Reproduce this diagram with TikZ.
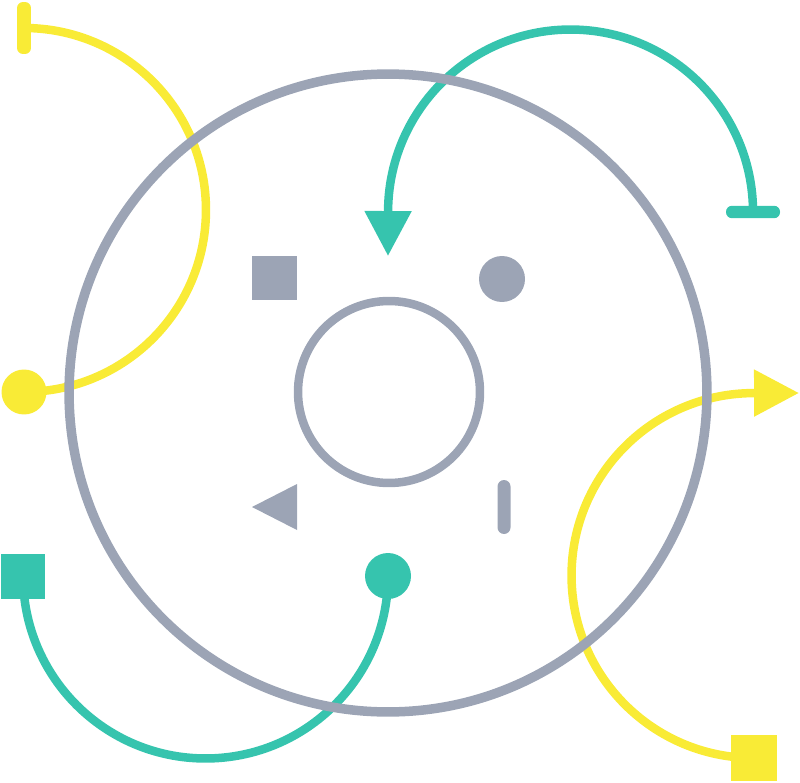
\documentclass[tikz,border=0pt]{standalone}
\usepackage{tikz}
\usetikzlibrary{arrows.meta,positioning}
\definecolor{sunyellow}{HTML}{F9EB36}
\definecolor{seateal}{HTML}{36C4AE}
\definecolor{slategrey}{HTML}{9CA4B5}

\begin{document}
\begin{tikzpicture}[x=0.02cm,y=0.02cm]
        \tikzstyle{ring}=[draw=slategrey, line width=0.19cm]
        \tikzstyle{arcline}=[line width=0.17cm]
        \tikzstyle{sqmark}=[rectangle, inner sep=0pt, minimum size=0.9cm]
        \tikzstyle{dotmark}=[circle, inner sep=0pt, minimum size=0.9cm]
        \tikzstyle{barmark}=[rectangle, inner sep=0pt, rounded corners=0.12cm]
        \tikzstyle{bigtip}=[-{Triangle[width=0.9cm,length=0.9cm]}]
        \useasboundingbox (0,0) rectangle (800,782);
        % end markers of the arcs
        \node[barmark, fill=sunyellow, minimum width=0.28cm, minimum height=1.04cm] (ybar) at (24,754) {};
        \node[dotmark, fill=sunyellow] (ydot) at (24,390) {};
        \node[sqmark, fill=sunyellow, minimum size=0.92cm] (ysq) at (754,24) {};
        \coordinate (ytip) at (799,389);
        \node[barmark, fill=seateal, minimum width=1.08cm, minimum height=0.25cm] (tbar) at (753,570) {};
        \coordinate (ttip) at (388,526);
        \node[dotmark, fill=seateal, minimum size=0.92cm] (tdot) at (388,206) {};
        \node[sqmark, fill=seateal] (tsq) at (23,206) {};
        % arcs
        \draw[arcline, draw=sunyellow] (ybar.center) arc[start angle=90, end angle=-90, radius=3.64cm];
        \draw[arcline, draw=seateal, bigtip] (tbar.center) arc[start angle=0, end angle=180, radius=3.65cm] -- (ttip);
        \draw[arcline, draw=sunyellow, bigtip] (ysq.center) arc[start angle=-90, end angle=-270, radius=3.65cm] -- (ytip);
        \draw[arcline, draw=seateal] (tdot.center) arc[start angle=0, end angle=-180, radius=3.65cm];
        % rings
        \draw[ring] (388,389) circle[radius=6.38cm];
        \draw[ring, line width=0.17cm] (389,390) circle[radius=1.82cm];
        % grey marks inside
        \node[sqmark, fill=slategrey] (gsq) at (274,504) {};
        \node[dotmark, fill=slategrey, minimum size=0.92cm] (gdot) at (502,503) {};
        \fill[slategrey] (252,275) -- (297,298) -- (297,252) -- cycle;
        \node[barmark, fill=slategrey, minimum width=0.26cm, minimum height=1.08cm, rounded corners=0.13cm] (gbar) at (504,275) {};
\end{tikzpicture}
\end{document}
